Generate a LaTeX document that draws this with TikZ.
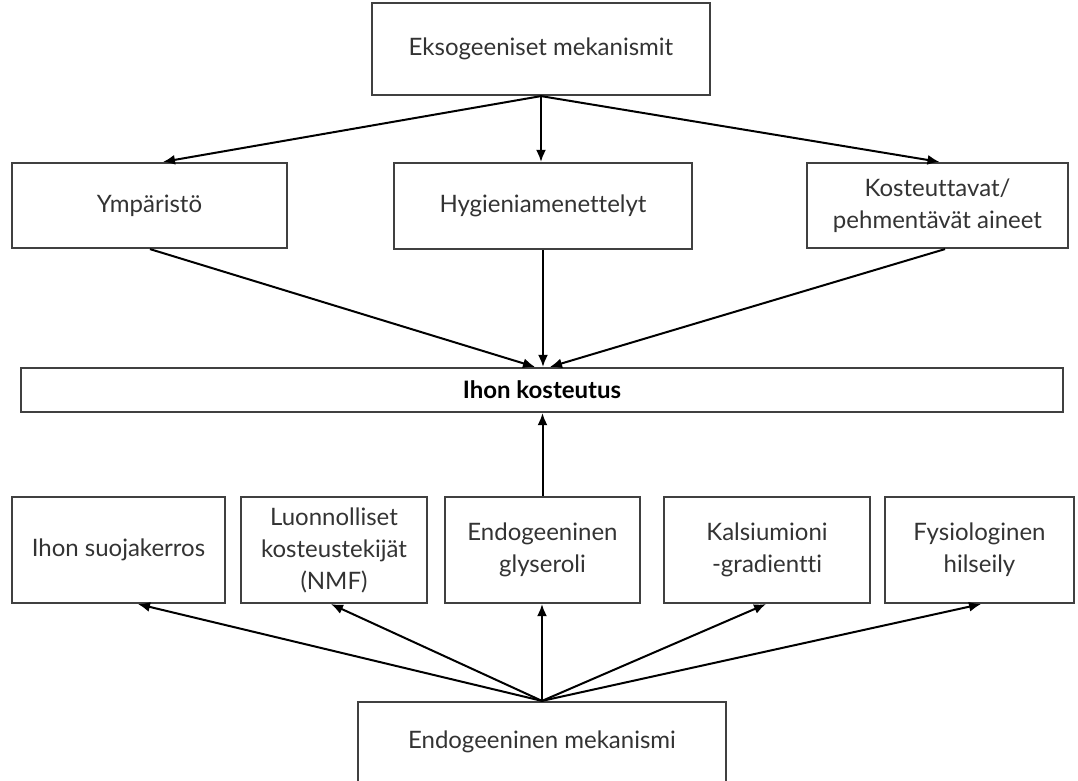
\documentclass[tikz,border=0pt]{standalone}
\usepackage{fontspec}
\setmainfont{Lato}[Ligatures=NoCommon]
\usetikzlibrary{arrows.meta,positioning,calc}

\begin{document}
\begin{tikzpicture}[x=0.5pt,y=-0.5pt,>={Latex[length=6pt,width=5pt]},
  box/.style={draw=black!75,line width=1.1pt,align=center,inner sep=0pt,
    font=\fontsize{12}{16}\selectfont,text=black!80},
  link/.style={->,line width=1pt}]
  \useasboundingbox (0,0) rectangle (1078,781);
  \clip (0,0) rectangle (1078,781);
  % Top: exogenous mechanisms
  \node[box,minimum width=169pt,minimum height=46pt] (exo) at (541,49) {Eksogeeniset mekanismit};
  \node[box,minimum width=137.5pt,minimum height=42.5pt] (ymp) at (149.5,205.5) {Ympäristö};
  \node[box,minimum width=149pt,minimum height=43pt] (hyg) at (543,206) {Hygieniamenettelyt};
  \node[box,minimum width=130.5pt,minimum height=42.5pt] (kost) at (937.5,205.5) {Kosteuttavat/\\pehmentävät aineet};
  % Middle: skin hydration
  \node[box,minimum width=521pt,minimum height=22pt,font=\fontsize{12}{16}\selectfont\bfseries,text=black] (ihon) at (542,390) {Ihon kosteutus};
  % Bottom: endogenous factors
  \node[box,minimum width=106.5pt,minimum height=53pt] (suoja) at (118.5,550) {Ihon suojakerros};
  \node[box,minimum width=93pt,minimum height=53pt] (nmf) at (334,550) {Luonnolliset\\kosteustekijät\\(NMF)};
  \node[box,minimum width=97.5pt,minimum height=53pt] (gly) at (542.5,550) {Endogeeninen\\glyseroli};
  \node[box,minimum width=103pt,minimum height=53pt] (kals) at (767,550) {Kalsiumioni\\-gradientti};
  \node[box,minimum width=94.5pt,minimum height=53pt] (fys) at (979.5,550) {Fysiologinen\\hilseily};
  \node[box,minimum width=184pt,minimum height=40pt] (endo) at (542,742) {Endogeeninen mekanismi};
  % exogenous arrows
  \draw[link] (exo.south) -- ([xshift=6.75pt]ymp.north);
  \draw[link] (exo.south) -- (exo.south |- hyg.north);
  \draw[link] (exo.south) -- ([xshift=1pt]kost.north);
  \draw[link] ([xshift=0.25pt]ymp.south) -- ([xshift=-3.5pt]ihon.north);
  \draw[link] (hyg.south) -- (hyg.south |- ihon.north);
  \draw[link] ([xshift=3.75pt]kost.south) -- ([xshift=4pt]ihon.north);
  % endogenous arrows
  \draw[link] (gly.north) -- (gly.north |- ihon.south);
  \draw[link] (endo.north) -- ([xshift=9.75pt]suoja.south);
  \draw[link] (endo.north) -- ([xshift=-1.5pt]nmf.south);
  \draw[link] (endo.north) -- (endo.north |- gly.south);
  \draw[link] (endo.north) -- ([xshift=-0.5pt]kals.south);
  \draw[link] (endo.north) -- ([xshift=0.75pt]fys.south);
\end{tikzpicture}
\end{document}
